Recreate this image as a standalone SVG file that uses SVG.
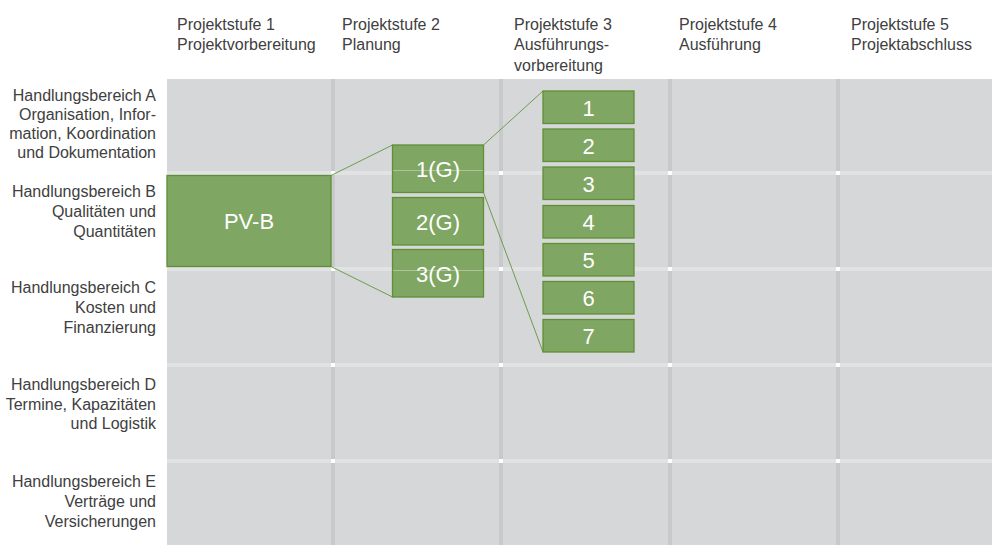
<svg xmlns="http://www.w3.org/2000/svg" width="992" height="545" viewBox="0 0 992 545">
  <style>
    .lbl { font-family: "Liberation Sans", Arial, sans-serif; font-size: 16px; fill: #404040; }
    .row { text-anchor: end; }
    .box { fill: #7fa662; stroke: #5e8f35; stroke-width: 1.3; }
    .btx { font-family: "Liberation Sans", Arial, sans-serif; font-size: 22px; fill: #ffffff; text-anchor: middle; }
    .con { stroke: #6e9d4b; stroke-width: 1; fill: none; }
    .vs { fill: #c8c9cb; }
    .hs { fill: #e1e2e4; }
    .xs { fill: #ffffff; }
    .glint { stroke: #ffffff; stroke-opacity: 0.35; stroke-width: 1; }
  </style>

  <rect width="992" height="545" fill="#ffffff"/>

  <!-- matrix background -->
  <g id="grid">
    <rect x="167" y="79" width="825" height="466" fill="#d6d7d9"/>
    <rect class="vs" x="331" y="79" width="4" height="466"/>
    <rect class="vs" x="499" y="79" width="4" height="466"/>
    <rect class="vs" x="668" y="79" width="4" height="466"/>
    <rect class="vs" x="836" y="79" width="4" height="466"/>
    <rect class="hs" x="167" y="171" width="825" height="4"/>
    <rect class="hs" x="167" y="267" width="825" height="4"/>
    <rect class="hs" x="167" y="363" width="825" height="4"/>
    <rect class="hs" x="167" y="459" width="825" height="4"/>
    <g>
      <rect class="xs" x="331" y="171" width="4" height="4"/>
      <rect class="xs" x="499" y="171" width="4" height="4"/>
      <rect class="xs" x="668" y="171" width="4" height="4"/>
      <rect class="xs" x="836" y="171" width="4" height="4"/>
      <rect class="xs" x="331" y="267" width="4" height="4"/>
      <rect class="xs" x="499" y="267" width="4" height="4"/>
      <rect class="xs" x="668" y="267" width="4" height="4"/>
      <rect class="xs" x="836" y="267" width="4" height="4"/>
      <rect class="xs" x="331" y="363" width="4" height="4"/>
      <rect class="xs" x="499" y="363" width="4" height="4"/>
      <rect class="xs" x="668" y="363" width="4" height="4"/>
      <rect class="xs" x="836" y="363" width="4" height="4"/>
      <rect class="xs" x="331" y="459" width="4" height="4"/>
      <rect class="xs" x="499" y="459" width="4" height="4"/>
      <rect class="xs" x="668" y="459" width="4" height="4"/>
      <rect class="xs" x="836" y="459" width="4" height="4"/>
    </g>
  </g>

  <!-- column headers -->
  <g id="headers" class="lbl">
    <text x="177" y="29.5">Projektstufe 1<tspan x="177" y="50">Projektvorbereitung</tspan></text>
    <text x="342" y="29.5">Projektstufe 2<tspan x="342" y="50">Planung</tspan></text>
    <text x="514" y="29.5">Projektstufe 3<tspan x="514" y="50">Ausführungs-</tspan><tspan x="514" y="70.5">vorbereitung</tspan></text>
    <text x="679" y="29.5">Projektstufe 4<tspan x="679" y="50">Ausführung</tspan></text>
    <text x="851" y="29.5">Projektstufe 5<tspan x="851" y="50">Projektabschluss</tspan></text>
  </g>

  <!-- row headers -->
  <g id="rows" class="lbl row">
    <text x="156" y="100.8">Handlungsbereich A<tspan x="156" y="119.9">Organisation, Infor-</tspan><tspan x="156" y="139">mation, Koordination</tspan><tspan x="156" y="158">und Dokumentation</tspan></text>
    <text x="156" y="196.5">Handlungsbereich B<tspan x="156" y="216.5">Qualitäten und</tspan><tspan x="156" y="236.5">Quantitäten</tspan></text>
    <text x="156" y="293.2">Handlungsbereich C<tspan x="156" y="313.2">Kosten und</tspan><tspan x="156" y="333.2">Finanzierung</tspan></text>
    <text x="156" y="389.8">Handlungsbereich D<tspan x="156" y="409.5">Termine, Kapazitäten</tspan><tspan x="156" y="429.2">und Logistik</tspan></text>
    <text x="156" y="486.5">Handlungsbereich E<tspan x="156" y="506.5">Verträge und</tspan><tspan x="156" y="526.5">Versicherungen</tspan></text>
  </g>

  <!-- connectors -->
  <g id="connectors">
    <line class="con" x1="331" y1="175.5" x2="392.5" y2="145"/>
    <line class="con" x1="331" y1="266.5" x2="392.5" y2="297"/>
    <line class="con" x1="483.5" y1="145" x2="543" y2="91"/>
    <line class="con" x1="483.5" y1="192.5" x2="543" y2="352"/>
  </g>

  <!-- nodes -->
  <g id="pv-b">
    <rect class="box" x="167" y="175.5" width="164" height="91"/>
    <text class="btx" x="249" y="229">PV-B</text>
  </g>

  <g id="g1">
    <rect class="box" x="392.5" y="145" width="91" height="47.5"/>
    <text class="btx" x="438" y="177">1(G)</text>
    <line class="glint" x1="393" y1="170.5" x2="483" y2="170.5"/>
  </g>
  <g id="g2">
    <rect class="box" x="392.5" y="197.5" width="91" height="47.5"/>
    <text class="btx" x="438" y="229.5">2(G)</text>
  </g>
  <g id="g3">
    <rect class="box" x="392.5" y="249.5" width="91" height="47.5"/>
    <text class="btx" x="438" y="281.5">3(G)</text>
    <line class="glint" x1="393" y1="270.5" x2="483" y2="270.5"/>
  </g>

  <g id="n1"><rect class="box" x="543" y="91" width="91" height="32.5"/><text class="btx" x="588.5" y="115.5">1</text></g>
  <g id="n2"><rect class="box" x="543" y="129" width="91" height="32.5"/><text class="btx" x="588.5" y="153.5">2</text></g>
  <g id="n3"><rect class="box" x="543" y="167" width="91" height="32.5"/><text class="btx" x="588.5" y="191.5">3</text></g>
  <g id="n4"><rect class="box" x="543" y="205.5" width="91" height="32.5"/><text class="btx" x="588.5" y="230">4</text></g>
  <g id="n5"><rect class="box" x="543" y="243.5" width="91" height="32.5"/><text class="btx" x="588.5" y="268">5</text></g>
  <g id="n6"><rect class="box" x="543" y="281.5" width="91" height="32.5"/><text class="btx" x="588.5" y="306">6</text></g>
  <g id="n7"><rect class="box" x="543" y="319.5" width="91" height="32.5"/><text class="btx" x="588.5" y="344">7</text></g>
</svg>
